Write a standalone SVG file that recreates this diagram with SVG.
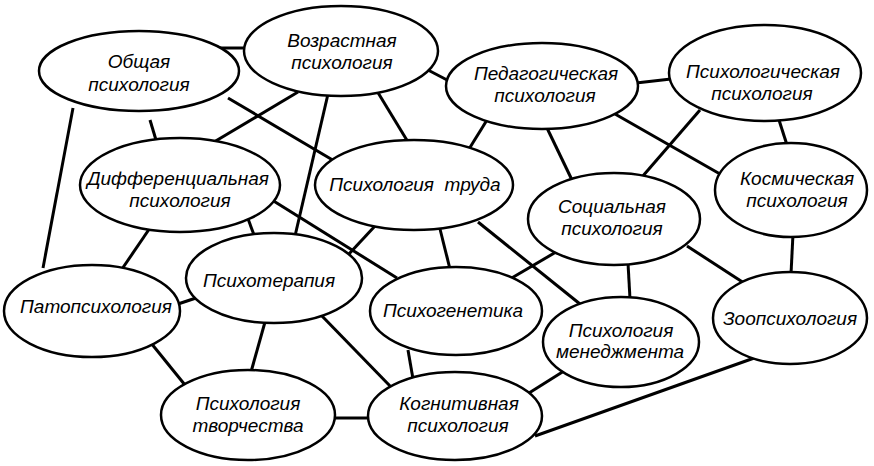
<svg xmlns="http://www.w3.org/2000/svg" width="874" height="466" viewBox="0 0 874 466">
<style>
.bg{fill:#fff}
.n ellipse{fill:#fff;stroke:#000;stroke-width:2.5}
.n text{font-family:"Liberation Sans",Arial,sans-serif;font-style:italic;font-size:19px;fill:#000;text-anchor:middle}
#edges line{stroke:#000;stroke-width:3;stroke-linecap:butt}
</style>
<rect class="bg" x="0" y="0" width="874" height="466"/>
<g id="edges">
<line x1="218" y1="48" x2="246" y2="48"/>
<line x1="228" y1="98" x2="336" y2="162"/>
<line x1="150" y1="120" x2="156" y2="140"/>
<line x1="73" y1="108" x2="43" y2="268"/>
<line x1="298" y1="92" x2="214" y2="142"/>
<line x1="328" y1="94" x2="295" y2="236"/>
<line x1="377" y1="91" x2="408" y2="142"/>
<line x1="428" y1="70" x2="449" y2="81"/>
<line x1="636" y1="83" x2="671" y2="79"/>
<line x1="487" y1="120" x2="469" y2="149"/>
<line x1="547" y1="128" x2="572" y2="180"/>
<line x1="615" y1="114" x2="720" y2="174"/>
<line x1="700" y1="110" x2="642" y2="177"/>
<line x1="779" y1="120" x2="787" y2="145"/>
<line x1="793" y1="234" x2="791" y2="274"/>
<line x1="687" y1="246" x2="744" y2="283"/>
<line x1="628" y1="263" x2="630" y2="299"/>
<line x1="556" y1="252" x2="510" y2="279"/>
<line x1="478" y1="222" x2="580" y2="304"/>
<line x1="440" y1="229" x2="450" y2="269"/>
<line x1="375" y1="226" x2="348" y2="255"/>
<line x1="272" y1="200" x2="397" y2="278"/>
<line x1="247" y1="216" x2="254" y2="235"/>
<line x1="152" y1="225" x2="122" y2="269"/>
<line x1="178" y1="304" x2="199" y2="297"/>
<line x1="151" y1="343" x2="185" y2="385"/>
<line x1="265" y1="322" x2="251" y2="372"/>
<line x1="321" y1="315" x2="391" y2="387"/>
<line x1="333" y1="418" x2="370" y2="418"/>
<line x1="408" y1="350" x2="413" y2="379"/>
<line x1="564" y1="371" x2="529" y2="393"/>
<line x1="757" y1="357" x2="535" y2="436"/>
</g>
<g id="n-obshchaya" class="n"><ellipse cx="139" cy="71" rx="100" ry="40"/><text x="139" y="68">Общая</text><text x="139" y="91">психология</text></g>
<g id="n-vozrastnaya" class="n"><ellipse cx="341" cy="51" rx="97" ry="45"/><text x="342" y="47">Возрастная</text><text x="342" y="69">психология</text></g>
<g id="n-pedagogicheskaya" class="n"><ellipse cx="542" cy="86" rx="96" ry="43"/><text x="546" y="80">Педагогическая</text><text x="545" y="102">психология</text></g>
<g id="n-psikhologicheskaya" class="n"><ellipse cx="765" cy="73" rx="96" ry="48"/><text x="763" y="78">Психологическая</text><text x="762" y="100">психология</text></g>
<g id="n-kosmicheskaya" class="n"><ellipse cx="791" cy="190" rx="76" ry="47"/><text x="797" y="185">Космическая</text><text x="797" y="207">психология</text></g>
<g id="n-differentsialnaya" class="n"><ellipse cx="180" cy="185" rx="100" ry="47"/><text x="178" y="185">Дифференциальная</text><text x="180" y="207">психология</text></g>
<g id="n-truda" class="n"><ellipse cx="414" cy="185" rx="99" ry="45"/><text x="415" y="191" xml:space="preserve">Психология  труда</text></g>
<g id="n-sotsialnaya" class="n"><ellipse cx="614" cy="219" rx="86" ry="46"/><text x="612" y="213">Социальная</text><text x="612" y="235">психология</text></g>
<g id="n-patopsikhologiya" class="n"><ellipse cx="92" cy="311" rx="88" ry="46"/><text x="96" y="313">Патопсихология</text></g>
<g id="n-psikhoterapiya" class="n"><ellipse cx="274" cy="278" rx="88" ry="45"/><text x="269" y="287">Психотерапия</text></g>
<g id="n-psikhogenetika" class="n"><ellipse cx="456" cy="311" rx="86" ry="44"/><text x="453" y="317">Психогенетика</text></g>
<g id="n-menedzhment" class="n"><ellipse cx="621" cy="342" rx="78" ry="45"/><text x="621" y="337">Психология</text><text x="620" y="358">менеджмента</text></g>
<g id="n-zoopsikhologiya" class="n"><ellipse cx="790" cy="318" rx="77" ry="46"/><text x="790" y="325">Зоопсихология</text></g>
<g id="n-tvorchestvo" class="n"><ellipse cx="248" cy="415" rx="87" ry="45"/><text x="248" y="410">Психология</text><text x="248" y="432">творчества</text></g>
<g id="n-kognitivnaya" class="n"><ellipse cx="455" cy="416" rx="87" ry="44"/><text x="459" y="410">Когнитивная</text><text x="458" y="432">психология</text></g>
</svg>
